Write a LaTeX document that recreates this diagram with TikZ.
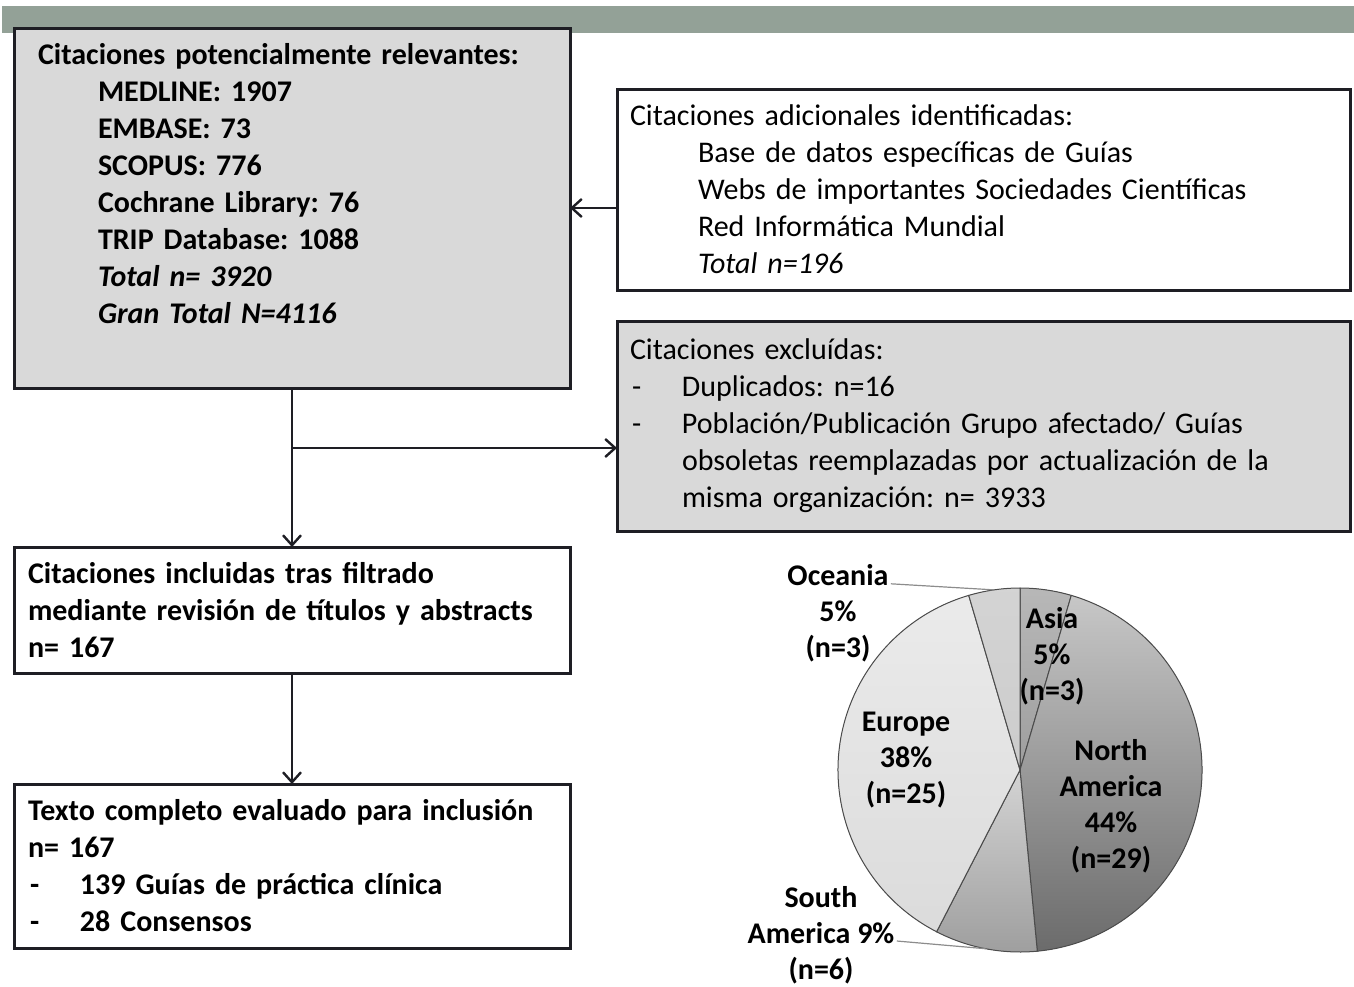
\documentclass[tikz,border=0pt]{standalone}
\usepackage{fontspec}
\setmainfont{Carlito}
\usepackage{xcolor}
\usepackage{tikz}
\usetikzlibrary{arrows.meta,positioning}
\definecolor{barcol}{HTML}{93A197}
\definecolor{boxgray}{HTML}{D9D9D9}
\definecolor{linecol}{HTML}{1E1E24}
\newcommand{\guion}{\makebox[26pt][l]{\hspace*{1pt}-}}
\frenchspacing

\begin{document}
\begin{tikzpicture}[
  x=0.5pt,y=-0.5pt,
  fbox/.style={draw=linecol,line width=1.5pt,anchor=north west,align=left,
               inner ysep=0pt,outer sep=0pt},
  rm/.style={font=\fontsize{15}{18.5}\selectfont},
  bf/.style={font=\fontsize{15}{18.5}\selectfont\bfseries},
  arr/.style={-{Straight Barb[length=5pt,width=9pt,line width=1.2pt]},line width=1.1pt,draw=linecol},
  lbl/.style={align=center,font=\fontsize{15}{18}\selectfont\bfseries,inner sep=1pt},
  slice/.style={draw=black!70,line width=0.5pt},
  lead/.style={draw=black!45,line width=0.6pt}
]
  \useasboundingbox (0,0) rectangle (1354,986);
  \fill[barcol] (2,6) rectangle (1354,33);

  % flow boxes
  \node[fbox,bf,fill=boxgray,inner xsep=12pt,text width=254pt,minimum height=180pt]
    (pot) at (14,28)
    {Citaciones potencialmente relevantes:\\
     \hspace*{30pt}MEDLINE: 1907\\
     \hspace*{30pt}EMBASE: 73\\
     \hspace*{30pt}SCOPUS: 776\\
     \hspace*{30pt}Cochrane Library: 76\\
     \hspace*{30pt}TRIP Database: 1088\\
     \hspace*{30pt}\textit{Total n= 3920}\\
     \hspace*{30pt}\textit{Gran Total N=4116}\\[6pt]\mbox{}};
  \node[fbox,rm,fill=white,inner xsep=6.5pt,text width=353.5pt,minimum height=100.5pt]
    (adic) at (617,89)
    {Citaciones adicionales identificadas:\\
     \hspace*{34pt}Base de datos específicas de Guías\\
     \hspace*{34pt}Webs de importantes Sociedades Científicas\\
     \hspace*{34pt}Red Informática Mundial\\
     \hspace*{34pt}\textit{Total n=196}};
  \node[fbox,rm,fill=boxgray,inner xsep=6.5pt,text width=353.5pt,minimum height=105pt,
        below=15.5pt of adic.south west,anchor=north west]
    (excl)
    {Citaciones excluídas:\\
     \guion Duplicados: n=16\\
     \guion Población/Publicación Grupo afectado/ Guías\\
     \hspace*{26pt}obsoletas reemplazadas por actualización de la\\
     \hspace*{26pt}misma organización: n= 3933};
  \node[fbox,bf,fill=white,inner xsep=7pt,text width=264pt,minimum height=63pt,
        below=79.5pt of pot.south west,anchor=north west]
    (incl)
    {Citaciones incluidas tras filtrado\\
     mediante revisión de títulos y abstracts\\
     n= 167};
  \node[fbox,bf,fill=white,inner xsep=7pt,text width=264pt,minimum height=82pt,
        below=55.5pt of incl.south west,anchor=north west]
    (texto)
    {Texto completo evaluado para inclusión\\
     n= 167\\
     \guion 139 Guías de práctica clínica\\
     \guion 28 Consensos};

  \coordinate (split) at ([yshift=-30pt]pot.south);
  \draw[arr] (adic.west |- pot.east) -- (pot.east);
  \draw[arr] (pot.south) -- (pot.south |- incl.north);
  \draw[arr] (split) -- (split -| excl.west);
  \draw[arr] (incl.south) -- (incl.south |- texto.north);

  % pie chart
  \begin{scope}[shift={(1020,770)},x=0.5pt,y=0.5pt]
    \coordinate (pc) at (0,0);
    \filldraw[slice,top color=black!28,bottom color=black!38]
      (pc) -- (90:182) arc[start angle=90,end angle=73.64,radius=182] -- cycle;
    \filldraw[slice,top color=black!22,bottom color=black!58]
      (pc) -- (73.64:182) arc[start angle=73.64,end angle=-84.55,radius=182] -- cycle;
    \filldraw[slice,top color=black!17,bottom color=black!38]
      (pc) -- (-84.55:182) arc[start angle=-84.55,end angle=-117.27,radius=182] -- cycle;
    \filldraw[slice,top color=black!8,bottom color=black!14]
      (pc) -- (-117.27:182) arc[start angle=-117.27,end angle=-253.64,radius=182] -- cycle;
    \filldraw[slice,top color=black!17,bottom color=black!20]
      (pc) -- (-253.64:182) arc[start angle=-253.64,end angle=-270,radius=182] -- cycle;
    \coordinate (oce-tip) at (98.18:182);
    \coordinate (sam-tip) at (-100.91:182);
  \end{scope}

  \node[lbl] (asia) at (1052,656) {Asia\\5\%\\(n=3)};
  \node[lbl] (nam) at (1111,806) {North\\America\\44\%\\(n=29)};
  \node[lbl] (eur) at (906,760) {Europe\\38\%\\(n=25)};
  \node[lbl] (oce) at (838,613) {Oceania\\5\%\\(n=3)};
  \node[lbl] (sam) at (821,935) {South\\America 9\%\\(n=6)};
  \draw[lead] ([yshift=-11pt]oce.north east) -- (oce-tip);
  \draw[lead] ([yshift=-3pt]sam.east) -- (sam-tip);
\end{tikzpicture}
\end{document}
